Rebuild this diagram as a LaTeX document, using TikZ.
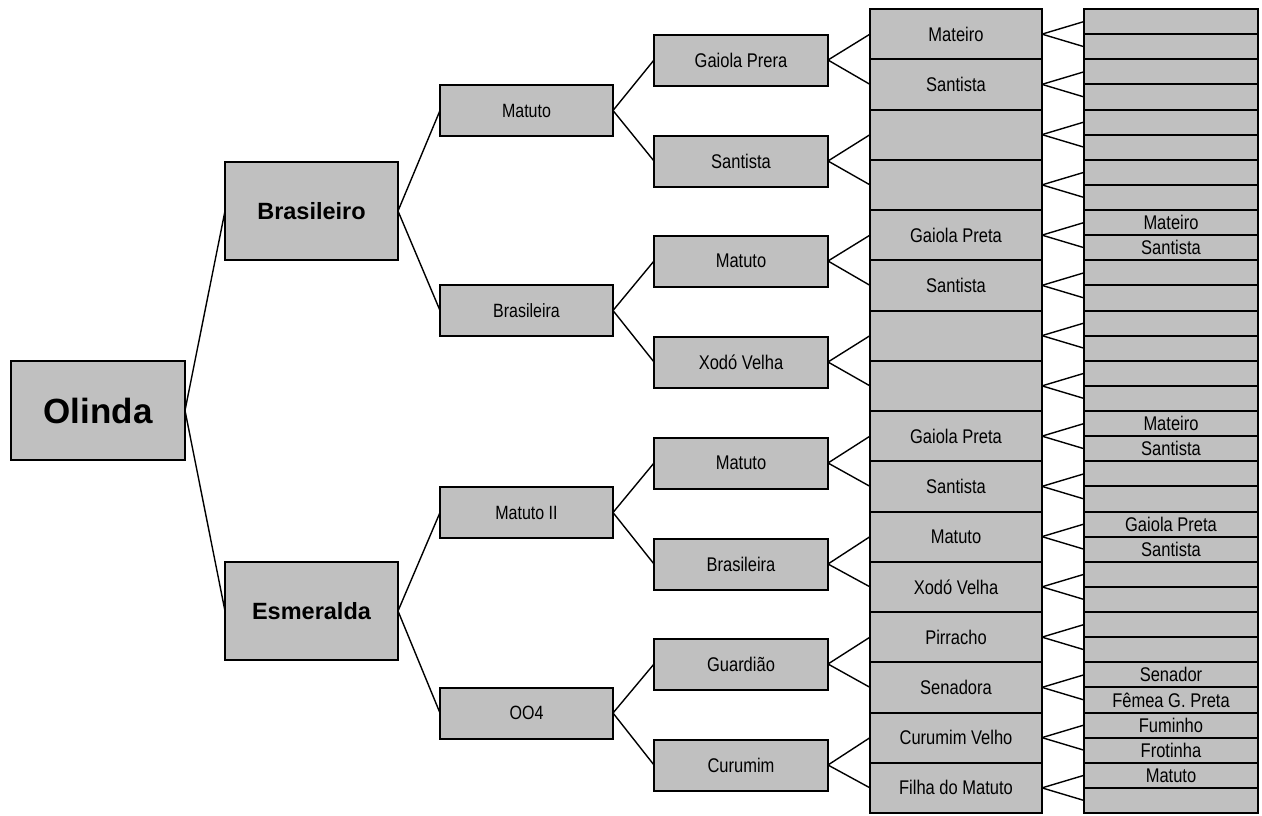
\documentclass[tikz,border=0pt]{standalone}
\usepackage{fontspec}
\setmainfont{Liberation Sans}
\definecolor{boxgray}{RGB}{192,192,192}
\newcommand\vstretch[1]{\scalebox{1}[1.2]{#1}}
\tikzset{
  box/.style={draw=black, line width=2pt, fill=boxgray, inner sep=0pt, outer sep=0pt,
    align=center, font=\fontsize{16.5}{18}\selectfont},
  bigbox/.style={box, font=\bfseries\fontsize{23.5}{26}\selectfont},
  rootbox/.style={box, font=\bfseries\fontsize{35}{38}\selectfont},
  conn/.style={line width=1.4pt, line join=round},
}
\begin{document}
\begin{tikzpicture}[x=1pt,y=-1pt]
\useasboundingbox (0,0) rectangle (1262,815);
% level 0
\node[rootbox, minimum width=174pt, minimum height=99pt] (n0) at (98,410.5) {Olinda};
% level 1
\node[bigbox, minimum width=173pt, minimum height=98pt] (l1-0) at (311.5,211) {Brasileiro};
\node[bigbox, minimum width=173pt, minimum height=98pt] (l1-1) at (311.5,611) {Esmeralda};
% level 2
\foreach \t/\y [count=\k from 0] in {Matuto/110.5, Brasileira/310.5, Matuto II/512.5, OO4/713}
  \node[box, minimum width=173pt, minimum height=51pt, font=\fontsize{16}{18}\selectfont] (l2-\k) at (526.5,\y) {\vstretch{\t}};
% level 3
\foreach \t/\y [count=\k from 0] in {Gaiola Prera/60, Santista/161, Matuto/261, Xodó Velha/362,
    Matuto/463, Brasileira/564, Guardião/664, Curumim/765}
  \node[box, minimum width=174pt, minimum height=51pt] (l3-\k) at (741,\y) {\vstretch{\t}};
% level 4
\foreach \t [count=\k from 0] in {Mateiro, Santista, {}, {}, Gaiola Preta, Santista, {}, {},
    Gaiola Preta, Santista, Matuto, Xodó Velha, Pirracho, Senadora, Curumim Velho, Filha do Matuto}{
  \pgfmathsetmacro\yy{9+50.25*(\k+0.5)}
  \node[box, minimum width=172pt, minimum height=50.25pt] (l4-\k) at (956,\yy) {\vstretch{\t}};
}
% level 5
\foreach \t [count=\k from 0] in {{}, {}, {}, {}, {}, {}, {}, {},
    Mateiro, Santista, {}, {}, {}, {}, {}, {},
    Mateiro, Santista, {}, {}, Gaiola Preta, Santista, {}, {},
    {}, {}, Senador, Fêmea G. Preta, Fuminho, Frotinha, Matuto, {}}{
  \pgfmathsetmacro\yy{9+25.125*(\k+0.5)}
  \node[box, minimum width=174pt, minimum height=25.125pt] (l5-\k) at (1171,\yy) {\vstretch{\t}};
}
% connectors
\foreach \k in {0,1} \draw[conn] (n0.east) -- (l1-\k.west);
\foreach \k in {0,...,3}{
  \pgfmathtruncatemacro\p{\k/2}
  \draw[conn] (l1-\p.east) -- (l2-\k.west);
}
\foreach \k in {0,...,7}{
  \pgfmathtruncatemacro\p{\k/2}
  \draw[conn] (l2-\p.east) -- (l3-\k.west);
}
\foreach \k in {0,...,15}{
  \pgfmathtruncatemacro\p{\k/2}
  \draw[conn] (l3-\p.east) -- (l4-\k.west);
}
\foreach \k in {0,...,31}{
  \pgfmathtruncatemacro\p{\k/2}
  \draw[conn] (l4-\p.east) -- (l5-\k.west);
}
\end{tikzpicture}
\end{document}
